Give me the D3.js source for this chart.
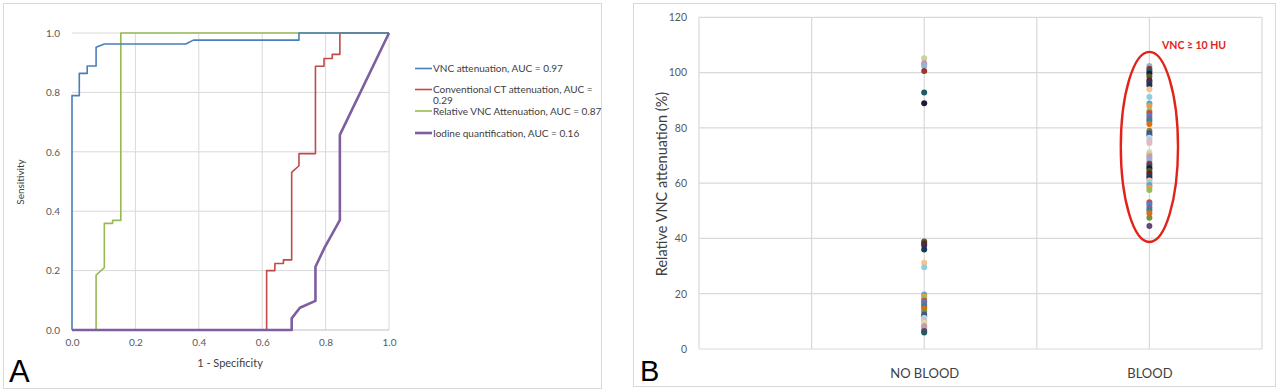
<!DOCTYPE html>
<html><head><meta charset="utf-8">
<script src="https://cdn.jsdelivr.net/npm/d3@7"></script>
<style>body{margin:0;background:#fff}svg{display:block}</style>
</head><body>
<svg id="c" width="1280" height="392"></svg>
<script>
// ---------- Panel A data (ROC curves) ----------
const rocTicks = [0, 0.2, 0.4, 0.6, 0.8, 1.0];
const seriesNames = [
  "VNC attenuation, AUC = 0.97",
  "Conventional CT attenuation, AUC = 0.29",
  "Relative VNC Attenuation, AUC = 0.87",
  "Iodine quantification, AUC = 0.16"
];
const vncFpr = [0, 0, 0.023, 0.023, 0.048, 0.048, 0.076, 0.076, 0.102, 0.359, 0.383, 0.716, 0.716, 1];
const vncTpr = [0, 0.789, 0.789, 0.864, 0.864, 0.889, 0.889, 0.952, 0.963, 0.963, 0.976, 0.976, 1, 1];
const ctFpr = [0, 0.614, 0.614, 0.64, 0.64, 0.667, 0.667, 0.693, 0.693, 0.716, 0.716, 0.768, 0.768, 0.795, 0.795, 0.821, 0.821, 0.845, 0.845, 1];
const ctTpr = [0, 0, 0.2, 0.2, 0.224, 0.224, 0.236, 0.236, 0.531, 0.553, 0.594, 0.594, 0.888, 0.888, 0.914, 0.914, 0.928, 0.928, 1, 1];
const relFpr = [0, 0.076, 0.076, 0.102, 0.102, 0.128, 0.128, 0.154, 0.154, 1];
const relTpr = [0, 0, 0.185, 0.21, 0.359, 0.359, 0.369, 0.369, 1, 1];
const iodFpr = [0, 0.693, 0.693, 0.719, 0.768, 0.768, 0.798, 0.845, 0.845, 1];
const iodTpr = [0, 0, 0.039, 0.075, 0.098, 0.213, 0.28, 0.37, 0.657, 1];

// ---------- Panel B data ----------
const categories = ["NO BLOOD", "BLOOD"];
const yTicksB = [0, 20, 40, 60, 80, 100, 120];
const noBlood = [105.2, 103.5, 103.0, 102.4, 100.6, 92.8, 88.9, 38.9, 38.2, 37.4, 36.0, 31.2, 29.6,
  19.7, 19.0, 18.3, 17.5, 16.8, 16.0, 15.3, 14.6, 13.6, 12.5, 11.8, 11.2, 10.6, 10.0, 9.4, 8.7, 8.2, 7.6, 7.0, 6.5, 6.0];
const blood = [102.4, 101.4, 100.5, 99.6, 98.6, 97.2, 96.4, 95.4, 94.0, 91.2, 88.8, 87.9, 86.2, 85.4, 84.4,
  83.3, 82.5, 81.4, 79.0, 78.1, 77.3, 76.4, 75.5, 74.5, 71.4, 70.6, 69.7, 68.9, 68.0, 67.0, 66.2, 65.4,
  64.4, 63.6, 62.7, 61.9, 61.0, 60.1, 59.2, 58.4, 57.5, 53.1, 52.2, 51.1, 50.2, 49.1, 47.5, 44.5];
const annotText = "VNC ≥ 10 HU";

// ---------- styles ----------
const seriesColors = ["#4a7ebb", "#be4b48", "#98b954", "#7d5fa0"];
const seriesWidths = [1.6, 1.6, 1.6, 2.6];
const pointPalette = ["#c3d69b", "#d99694", "#b3a2c7", "#95b3d7", "#953735", "#215968", "#1f1a3d",
  "#4f6228", "#632523", "#3f3151", "#17375e", "#fac090", "#93cddd", "#4bacc6", "#f79646", "#9bbb59",
  "#c0504d", "#4f81bd", "#8064a2", "#31859c", "#e46c0a", "#76923c", "#604a7b", "#376092", "#b7dee8",
  "#ccc1da", "#e6b9b8", "#d7e4bd"];
const gridColor = "#d9d9d9";
const textColor = "#595959";
const font = "Lato, 'Open Sans', sans-serif";

const svg = d3.select("#c");

// Panel frames
svg.append("rect").attr("x", 3.5).attr("y", 3.5).attr("width", 598).attr("height", 385)
  .attr("fill", "none").attr("stroke", "#d9d9d9");
svg.append("rect").attr("x", 633.5).attr("y", 3.5).attr("width", 642).attr("height", 383)
  .attr("fill", "none").attr("stroke", "#d9d9d9");

// ================= Panel A =================
const xA = d3.scaleLinear().domain([0, 1]).range([72, 389]);
const yA = d3.scaleLinear().domain([0, 1]).range([330, 33]);
const gA = svg.append("g");
gA.selectAll(".gx").data(rocTicks.slice(1)).join("line")
  .attr("x1", d => xA(d)).attr("x2", d => xA(d)).attr("y1", yA(0)).attr("y2", yA(1))
  .attr("stroke", gridColor).attr("stroke-width", 1);
gA.selectAll(".gy").data(rocTicks.slice(1)).join("line")
  .attr("y1", d => yA(d)).attr("y2", d => yA(d)).attr("x1", xA(0)).attr("x2", xA(1))
  .attr("stroke", gridColor).attr("stroke-width", 1);
gA.append("line").attr("x1", xA(0)).attr("x2", xA(1)).attr("y1", yA(0)).attr("y2", yA(0))
  .attr("stroke", "#bfbfbf");

const axA = gA.append("g").attr("transform", `translate(0,${yA(0) + 4})`)
  .call(d3.axisBottom(xA).tickValues(rocTicks).tickFormat(d3.format(".1f")).tickSize(0));
axA.select(".domain").remove();
axA.selectAll("text").attr("font-family", font).attr("font-size", 10).attr("fill", textColor).attr("dy", "0.9em");
const ayA = gA.append("g").attr("transform", `translate(${xA(0) - 9},0)`)
  .call(d3.axisLeft(yA).tickValues(rocTicks).tickFormat(d3.format(".1f")).tickSize(0));
ayA.select(".domain").remove();
ayA.selectAll("text").attr("font-family", font).attr("font-size", 10).attr("fill", textColor);

gA.append("text").attr("x", 230).attr("y", 367).attr("text-anchor", "middle")
  .attr("font-family", font).attr("font-size", 11).attr("fill", "#404040").text("1 - Specificity");
gA.append("text").attr("transform", "translate(24,182) rotate(-90)").attr("text-anchor", "middle")
  .attr("font-family", font).attr("font-size", 10).attr("fill", "#404040").text("Sensitivity");

const seriesData = [
  d3.zip(vncFpr, vncTpr), d3.zip(ctFpr, ctTpr), d3.zip(relFpr, relTpr), d3.zip(iodFpr, iodTpr)
];
const lineA = d3.line().x(d => xA(d[0])).y(d => yA(d[1]));
const drawOrder = [1, 2, 0, 3];
drawOrder.forEach(i => {
  gA.append("path").attr("d", lineA(seriesData[i])).attr("fill", "none")
    .attr("stroke", seriesColors[i]).attr("stroke-width", seriesWidths[i]).attr("stroke-linejoin", "round");
});

// legend
const legY = [68.5, 89.5, 111, 133];
seriesNames.forEach((name, i) => {
  gA.append("line").attr("x1", 415).attr("x2", 432).attr("y1", legY[i]).attr("y2", legY[i])
    .attr("stroke", seriesColors[i]).attr("stroke-width", seriesWidths[i]);
  const t = gA.append("text").attr("x", 433).attr("y", legY[i] + 3.5)
    .attr("font-family", font).attr("font-size", 10).attr("fill", "#404040");
  if (i === 1) {
    const parts = name.split("= ");
    t.append("tspan").text(parts[0] + "=");
    t.append("tspan").attr("x", 433).attr("dy", 11).text(parts[1]);
  } else t.text(name);
});

gA.append("text").attr("x", 9).attr("y", 382).attr("font-family", "'Liberation Sans', Arial, sans-serif")
  .attr("font-size", 31).attr("fill", "#000").text("A");

// ================= Panel B =================
const xB = d3.scaleLinear().domain([0, 2.5]).range([699, 1262]);
const yB = d3.scaleLinear().domain([0, 120]).range([349, 17.3]);
const gB = svg.append("g");
gB.selectAll(".bx").data(d3.range(0, 2.51, 0.5)).join("line")
  .attr("x1", d => xB(d)).attr("x2", d => xB(d)).attr("y1", yB(0)).attr("y2", yB(120))
  .attr("stroke", gridColor).attr("stroke-width", 1.2);
gB.selectAll(".by").data(yTicksB).join("line")
  .attr("y1", d => yB(d)).attr("y2", d => yB(d)).attr("x1", xB(0)).attr("x2", xB(2.5))
  .attr("stroke", gridColor).attr("stroke-width", 1.2);

const ayB = gB.append("g").attr("transform", `translate(${xB(0) - 9},0)`)
  .call(d3.axisLeft(yB).tickValues(yTicksB).tickSize(0));
ayB.select(".domain").remove();
ayB.selectAll("text").attr("font-family", font).attr("font-size", 10.5).attr("fill", textColor);

const axB = gB.append("g").attr("transform", `translate(0,${yB(0) + 16})`)
  .call(d3.axisBottom(xB).tickValues([1, 2]).tickFormat(d => categories[d - 1]).tickSize(0));
axB.select(".domain").remove();
axB.selectAll("text").attr("font-family", font).attr("font-size", 13).attr("fill", "#404040").attr("dy", "0.75em");

gB.append("text").attr("transform", "translate(667,184) rotate(-90)").attr("text-anchor", "middle")
  .attr("font-family", font).attr("font-size", 14.5).attr("fill", "#404040").text("Relative VNC attenuation (%)");

// points
const ptsNo = noBlood.map((v, i) => ({x: 1, v, c: pointPalette[i % pointPalette.length]}));
const ptsBl = blood.map((v, i) => ({x: 2, v, c: pointPalette[(i + 3) % pointPalette.length]}));
gB.selectAll(".pt").data(ptsNo.concat(ptsBl)).join("circle")
  .attr("cx", d => xB(d.x)).attr("cy", d => yB(d.v)).attr("r", 3)
  .attr("fill", d => d.c);

// annotation ellipse
gB.append("ellipse").attr("cx", xB(2)).attr("cy", yB(73.1))
  .attr("rx", xB(2.127) - xB(2)).attr("ry", yB(38.7) - yB(73.1))
  .attr("fill", "none").attr("stroke", "#e2231a").attr("stroke-width", 2.4);
gB.append("text").attr("x", xB(2.056)).attr("y", yB(108.4))
  .attr("font-family", font).attr("font-size", 10.5).attr("font-weight", "bold")
  .attr("fill", "#e2231a").text(annotText);

gB.append("text").attr("x", 640).attr("y", 381).attr("font-family", "'Liberation Sans', Arial, sans-serif")
  .attr("font-size", 29).attr("fill", "#000").text("B");
</script>
</body></html>
